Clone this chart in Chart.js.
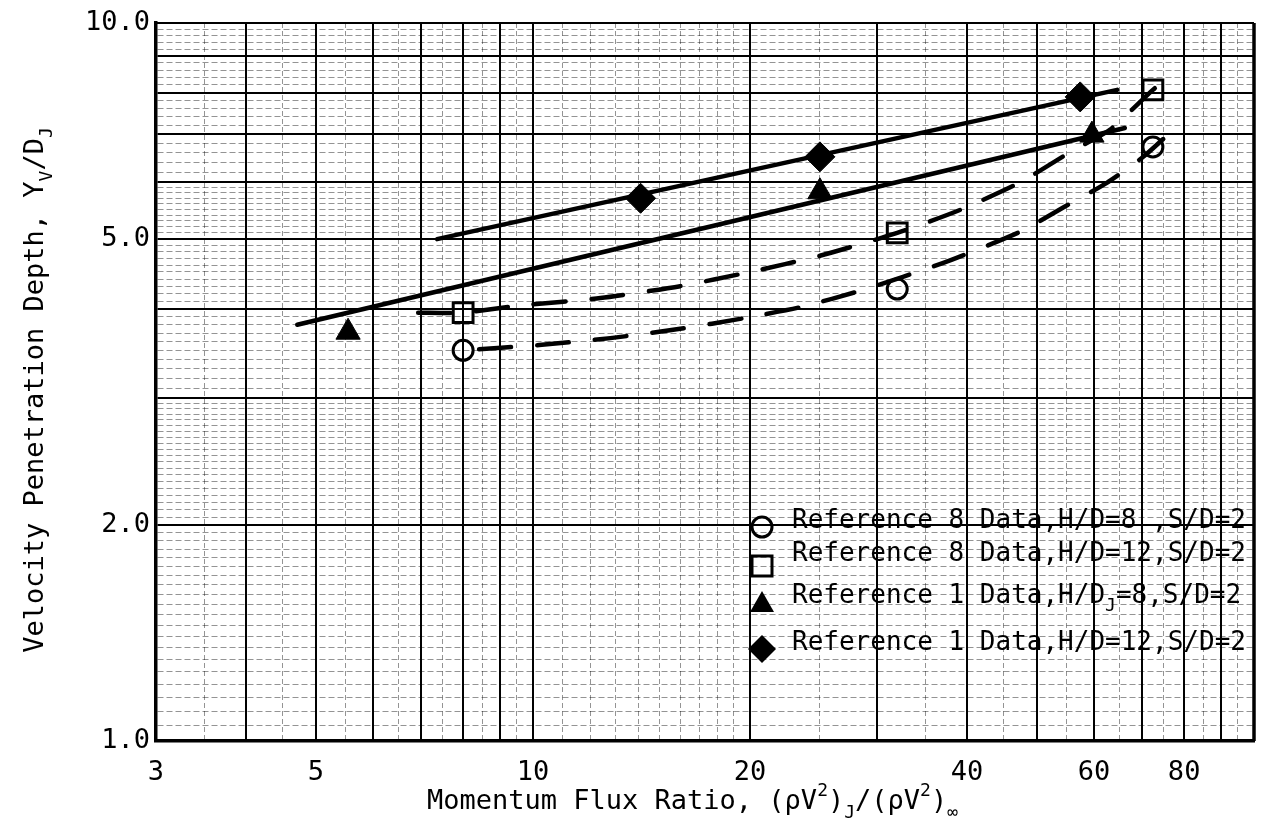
<!DOCTYPE html>
<html>
<head>
<meta charset="utf-8">
<title>Velocity Penetration Depth</title>
<script src="https://cdn.jsdelivr.net/npm/chart.js@4.4.1/dist/chart.umd.min.js"></script>
<style>
  html, body { margin: 0; padding: 0; background: #fff; }
  #wrap { width: 1261px; height: 832px; }
</style>
</head>
<body>
<div id="wrap"><canvas id="grafico" width="1261" height="832"></canvas></div>
<script>
const ref8HD8X = [8.0, 32.0, 72.4];
const ref8HD8Y = [3.50, 4.26, 6.72];
const ref8HD12X = [8.0, 32.0, 72.4];
const ref8HD12Y = [3.95, 5.10, 8.07];
const ref1HD8X = [5.54, 25.0, 59.6];
const ref1HD8Y = [3.71, 5.82, 6.98];
const ref1HD12X = [14.1, 25.0, 57.4];
const ref1HD12Y = [5.70, 6.51, 7.89];

// faired lines drawn through the data
const solidHD8X = [4.71, 66.2];
const solidHD8Y = [3.80, 7.14];
const solidHD12X = [7.36, 64.6];
const solidHD12Y = [5.00, 8.07];
const dashSqX = [6.93, 7.97, 9.59, 12.4, 16.0, 20.0, 25.0, 32.0, 39.1, 47.4, 55.6, 63.1, 72.4, 77.2];
const dashSqY = [3.95, 3.95, 4.04, 4.14, 4.30, 4.50, 4.74, 5.10, 5.49, 6.00, 6.61, 7.10, 8.07, 8.52];
const dashCircX = [8.0, 10.2, 12.8, 16.0, 19.6, 23.5, 28.7, 37.0, 47.4, 54.3, 62.5, 70.2, 79.4];
const dashCircY = [3.50, 3.56, 3.64, 3.75, 3.88, 4.02, 4.25, 4.63, 5.12, 5.53, 5.99, 6.51, 7.28];

// axis labels
const xTickLabels = [3, 5, 10, 20, 40, 60, 80];
const yTickLabels = [1, 2, 5, 10];

const legendLabels = [
    [{ t: 'Reference 8 Data,H/D=8 ,S/D=2' }],
    [{ t: 'Reference 8 Data,H/D=12,S/D=2' }],
    [{ t: 'Reference 1 Data,H/D' }, { t: 'J', sub: true }, { t: '=8,S/D=2' }],
    [{ t: 'Reference 1 Data,H/D=12,S/D=2' }]
];
const legendMarkers = ['circle', 'rect', 'triangle', 'rectRot'];

const FONTE = '"DejaVu Sans Mono", "Liberation Mono", monospace';

function pares(xs, ys) {
    return xs.map((x, i) => ({ x: x, y: ys[i] }));
}

// grid lines of the log paper
function faixa(de, ate, passo) {
    const v = [];
    const n = Math.round((ate - de) / passo);
    for (let i = 0; i < n; i++) v.push(+(de + i * passo).toFixed(3));
    return v;
}
const xGrid = [].concat(faixa(3, 10, 0.5), faixa(10, 20, 1), faixa(20, 100, 5), [100]);
const yGrid = [].concat(faixa(1, 3, 0.05), faixa(3, 6, 0.1), faixa(6, 10, 0.2), [10]);

function ehInteiro(v) {
    const d = v < 10 ? 1 : 10;
    return Math.abs(v / d - Math.round(v / d)) < 1e-6;
}
function temLabel(lista, v) {
    return lista.some(l => Math.abs(l - v) < 1e-6);
}

function drawRich(ctx, parts, x, y, size) {
    let cx = x;
    parts.forEach(p => {
        const s = (p.sub || p.sup) ? Math.round(size * 0.68) : size;
        ctx.font = s + 'px ' + FONTE;
        const dy = p.sub ? size * 0.32 : (p.sup ? -size * 0.48 : 0);
        ctx.fillText(p.t, cx, y + dy);
        cx += ctx.measureText(p.t).width;
    });
    return cx - x;
}

function drawMarker(ctx, kind, x, y) {
    ctx.save();
    ctx.lineWidth = 3;
    ctx.strokeStyle = '#000';
    ctx.fillStyle = '#000';
    ctx.beginPath();
    if (kind === 'circle') {
        ctx.arc(x, y, 10, 0, Math.PI * 2);
        ctx.stroke();
    } else if (kind === 'rect') {
        ctx.rect(x - 10, y - 10, 20, 20);
        ctx.stroke();
    } else if (kind === 'triangle') {
        ctx.moveTo(x, y - 13);
        ctx.lineTo(x + 12, y + 8);
        ctx.lineTo(x - 12, y + 8);
        ctx.closePath();
        ctx.fill();
    } else {
        ctx.moveTo(x, y - 14);
        ctx.lineTo(x + 14, y);
        ctx.lineTo(x, y + 14);
        ctx.lineTo(x - 14, y);
        ctx.closePath();
        ctx.fill();
    }
    ctx.restore();
}

const textos = {
    id: 'textos',
    afterDatasetsDraw(chart) {
        const ctx = chart.ctx;
        const area = chart.chartArea;
        ctx.save();
        ctx.fillStyle = '#000';
        ctx.textBaseline = 'alphabetic';
        ctx.textAlign = 'left';

        // outer frame
        ctx.strokeStyle = '#000';
        ctx.lineWidth = 2;
        ctx.beginPath();
        ctx.moveTo(area.left, area.top);
        ctx.lineTo(area.right, area.top);
        ctx.stroke();
        ctx.lineWidth = 3.5;
        ctx.beginPath();
        ctx.moveTo(area.right, area.top);
        ctx.lineTo(area.right, area.bottom);
        ctx.stroke();

        // legend inside plot
        const bases = [528, 561, 603, 650];
        const centros = [527, 566, 604, 649];
        ctx.save();
        ctx.beginPath();
        ctx.rect(area.left, area.top, area.right - area.left - 1, area.bottom - area.top);
        ctx.clip();
        legendLabels.forEach((parts, i) => {
            drawMarker(ctx, legendMarkers[i], 762, centros[i]);
            drawRich(ctx, parts, 792, bases[i], 26);
        });
        ctx.restore();

        // x title
        drawRich(ctx, [
            { t: 'Momentum Flux Ratio, (ρV' }, { t: '2', sup: true }, { t: ')' }, { t: 'J', sub: true },
            { t: '/(ρV' }, { t: '2', sup: true }, { t: ')' }, { t: '∞', sub: true }
        ], 427, 809, 27);

        // y title
        const yParts = [
            { t: 'Velocity Penetration Depth, Y' }, { t: 'V', sub: true }, { t: '/D' }, { t: 'J', sub: true }
        ];
        ctx.font = '27px ' + FONTE;
        ctx.translate(43, 390);
        ctx.rotate(-Math.PI / 2);
        let w = 0;
        yParts.forEach(p => {
            ctx.font = ((p.sub) ? Math.round(27 * 0.68) : 27) + 'px ' + FONTE;
            w += ctx.measureText(p.t).width;
        });
        drawRich(ctx, yParts, -w / 2, 0, 27);
        ctx.restore();
    }
};

const ctx = document.getElementById('grafico').getContext('2d');
new Chart(ctx, {
    type: 'scatter',
    data: {
        datasets: [
            {
                label: 'Reference 8 Data, H/D=8, S/D=2',
                data: pares(ref8HD8X, ref8HD8Y),
                pointStyle: 'circle', pointRadius: 10, borderWidth: 3,
                borderColor: '#000', backgroundColor: 'rgba(0,0,0,0)', order: 0
            },
            {
                label: 'Reference 8 Data, H/D=12, S/D=2',
                data: pares(ref8HD12X, ref8HD12Y),
                pointStyle: 'rect', pointRadius: 14, borderWidth: 3,
                borderColor: '#000', backgroundColor: 'rgba(0,0,0,0)', order: 0
            },
            {
                label: 'Reference 1 Data, H/DJ=8, S/D=2',
                data: pares(ref1HD8X, ref1HD8Y),
                pointStyle: 'triangle', pointRadius: 14, borderWidth: 1,
                borderColor: '#000', backgroundColor: '#000', order: 0
            },
            {
                label: 'Reference 1 Data, H/D=12, S/D=2',
                data: pares(ref1HD12X, ref1HD12Y),
                pointStyle: 'rectRot', pointRadius: 15, borderWidth: 1,
                borderColor: '#000', backgroundColor: '#000', order: 0
            },
            {
                label: 'fit H/D=8 (Ref 1)',
                data: pares(solidHD8X, solidHD8Y),
                showLine: true, pointRadius: 0, borderWidth: 4.5,
                borderColor: '#000', borderCapStyle: 'round', order: 1
            },
            {
                label: 'fit H/D=12 (Ref 1)',
                data: pares(solidHD12X, solidHD12Y),
                showLine: true, pointRadius: 0, borderWidth: 4.5,
                borderColor: '#000', borderCapStyle: 'round', order: 1
            },
            {
                label: 'fit H/D=12 (Ref 8)',
                data: pares(dashSqX, dashSqY),
                showLine: true, pointRadius: 0, borderWidth: 4.5, borderDash: [32, 26],
                borderColor: '#000', borderCapStyle: 'round', tension: 0.2, order: 1
            },
            {
                label: 'fit H/D=8 (Ref 8)',
                data: pares(dashCircX, dashCircY),
                showLine: true, pointRadius: 0, borderWidth: 4.5, borderDash: [32, 26],
                borderDashOffset: -16,
                borderColor: '#000', borderCapStyle: 'round', tension: 0.2, order: 1
            }
        ]
    },
    options: {
        responsive: false,
        animation: false,
        devicePixelRatio: 1,
        layout: { autoPadding: false, padding: { top: 23, right: 7, left: 0, bottom: 0 } },
        plugins: {
            legend: { display: false },
            tooltip: { enabled: false }
        },
        scales: {
            x: {
                type: 'logarithmic',
                min: 3,
                max: 100,
                afterBuildTicks: (scale) => { scale.ticks = xGrid.map(v => ({ value: v })); },
                afterFit: (scale) => {
                    scale.height = 91;
                    scale.paddingLeft = 0;
                    scale.paddingRight = 0;
                },
                ticks: {
                    autoSkip: false,
                    maxRotation: 0,
                    minRotation: 0,
                    padding: 16,
                    color: '#000',
                    font: { family: FONTE, size: 27 },
                    callback: (v) => temLabel(xTickLabels, v) ? String(Math.round(v)) : ''
                },
                grid: {
                    drawTicks: false,
                    color: (c) => c.tick && ehInteiro(c.tick.value) ? '#000' : 'rgba(0,0,0,0.42)',
                    lineWidth: (c) => {
                        if (!c.tick) return 1;
                        if (Math.abs(c.tick.value - 100) < 1e-6) return 0;
                        return ehInteiro(c.tick.value) ? 2 : 1;
                    }
                },
                border: {
                    display: true, color: '#000', width: 3.5,
                    dash: (c) => c.tick && !ehInteiro(c.tick.value) ? [5, 3] : []
                }
            },
            y: {
                type: 'logarithmic',
                min: 1,
                max: 10,
                afterBuildTicks: (scale) => { scale.ticks = yGrid.map(v => ({ value: v })); },
                afterFit: (scale) => { scale.width = 156; },
                ticks: {
                    autoSkip: false,
                    padding: 6,
                    color: '#000',
                    font: { family: FONTE, size: 27 },
                    callback: (v) => temLabel(yTickLabels, v) ? Number(v).toFixed(1) : ''
                },
                grid: {
                    drawTicks: false,
                    color: (c) => c.tick && ehInteiro(c.tick.value) ? '#000' : 'rgba(0,0,0,0.42)',
                    lineWidth: (c) => {
                        if (!c.tick) return 1;
                        if (Math.abs(c.tick.value - 10) < 1e-6) return 0;
                        return ehInteiro(c.tick.value) ? 2 : 1;
                    }
                },
                border: {
                    display: true, color: '#000', width: 3.5,
                    dash: (c) => c.tick && !ehInteiro(c.tick.value) ? [6, 3] : []
                }
            }
        }
    },
    plugins: [textos]
});
</script>
</body>
</html>
